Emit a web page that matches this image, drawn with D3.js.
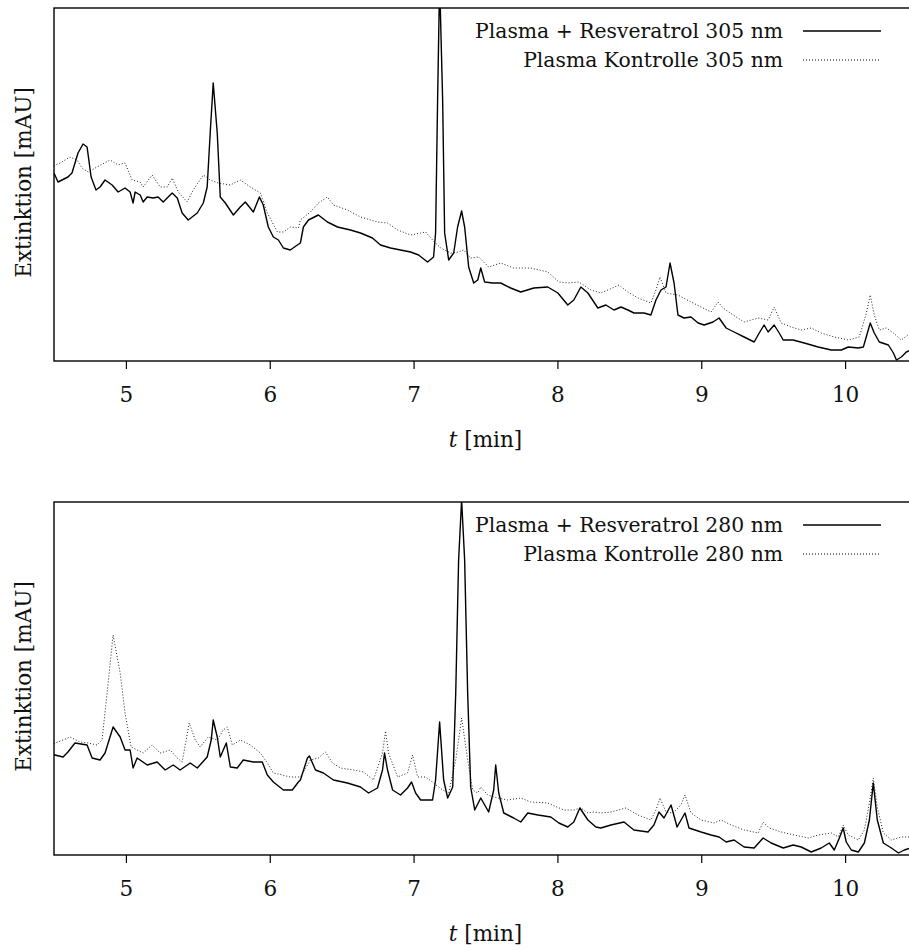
<!DOCTYPE html>
<html><head><meta charset="utf-8">
<script src="https://cdn.jsdelivr.net/npm/d3@7"></script>
<style>
html,body{margin:0;padding:0;background:#fff;}
svg{display:block;}
</style></head>
<body>
<script>
// time axis ticks (min)
const xTicks = [5, 6, 7, 8, 9, 10];
const xDomain = [4.5, 10.5];
const yDomain = [0, 353];

// Panel 1: 305 nm  [t (min), extinction (arb. mAU)]
const res305 = [[4.500,188],[4.528,179],[4.597,184],[4.625,188],[4.667,208],[4.702,217],[4.730,214],[4.758,184],[4.792,171],[4.820,174],[4.855,181],[4.904,176],[4.946,169],[4.994,173],[5.029,169],[5.050,158],[5.064,169],[5.099,166],[5.120,159],[5.148,164],[5.189,163],[5.224,164],[5.259,159],[5.322,168],[5.357,163],[5.391,148],[5.433,141],[5.496,148],[5.538,158],[5.565,174],[5.586,228],[5.607,278],[5.635,228],[5.656,164],[5.691,158],[5.747,146],[5.795,154],[5.830,159],[5.886,149],[5.928,164],[5.955,156],[5.990,134],[6.025,124],[6.060,121],[6.095,113],[6.143,111],[6.192,116],[6.213,118],[6.234,134],[6.269,141],[6.338,146],[6.401,139],[6.471,134],[6.561,131],[6.631,128],[6.714,123],[6.770,116],[6.840,113],[6.909,111],[6.979,109],[7.035,106],[7.097,99],[7.139,104],[7.153,128],[7.167,261],[7.181,380],[7.202,261],[7.216,128],[7.244,101],[7.279,108],[7.306,134],[7.334,150],[7.355,134],[7.383,94],[7.418,78],[7.446,81],[7.467,93],[7.494,79],[7.550,78],[7.606,78],[7.675,73],[7.745,69],[7.836,73],[7.933,74],[8.003,68],[8.072,56],[8.114,61],[8.163,74],[8.212,68],[8.281,53],[8.337,56],[8.393,51],[8.442,54],[8.490,51],[8.532,48],[8.602,48],[8.650,46],[8.685,61],[8.720,71],[8.755,74],[8.783,98],[8.811,78],[8.838,46],[8.880,43],[8.929,44],[8.978,38],[9.020,36],[9.082,39],[9.124,43],[9.173,33],[9.228,29],[9.298,24],[9.368,19],[9.403,28],[9.437,36],[9.465,29],[9.507,36],[9.542,28],[9.570,21],[9.639,21],[9.716,18],[9.813,14],[9.904,11],[9.974,11],[10.022,14],[10.092,13],[10.127,14],[10.155,28],[10.175,38],[10.203,28],[10.238,19],[10.301,16],[10.336,8],[10.357,1],[10.391,4],[10.426,9],[10.454,11],[10.5,12]];
const ctl305 = [[4.500,195],[4.507,196],[4.542,198],[4.611,204],[4.660,201],[4.695,193],[4.737,189],[4.799,194],[4.890,201],[4.946,196],[4.994,198],[5.043,181],[5.099,179],[5.120,174],[5.182,186],[5.238,174],[5.287,174],[5.322,183],[5.364,169],[5.426,159],[5.468,171],[5.538,186],[5.586,181],[5.642,178],[5.726,176],[5.795,181],[5.865,174],[5.935,168],[5.983,148],[6.053,129],[6.095,129],[6.143,134],[6.199,133],[6.213,141],[6.283,149],[6.338,158],[6.401,164],[6.443,156],[6.540,151],[6.631,144],[6.749,139],[6.819,138],[6.889,131],[6.979,126],[7.049,128],[7.084,129],[7.132,121],[7.188,113],[7.258,108],[7.313,109],[7.348,111],[7.397,103],[7.453,104],[7.522,94],[7.606,98],[7.696,93],[7.815,93],[7.933,89],[8.010,79],[8.072,78],[8.149,79],[8.233,71],[8.302,68],[8.351,71],[8.428,76],[8.490,69],[8.560,63],[8.650,58],[8.685,71],[8.713,84],[8.755,68],[8.838,66],[8.929,59],[8.999,54],[9.068,49],[9.117,59],[9.152,53],[9.222,46],[9.298,39],[9.396,43],[9.465,41],[9.507,54],[9.556,38],[9.625,34],[9.695,31],[9.765,33],[9.834,28],[9.925,24],[10.022,21],[10.099,24],[10.148,48],[10.175,66],[10.203,46],[10.238,31],[10.287,33],[10.336,28],[10.391,21],[10.454,28],[10.5,29]];

// Panel 2: 280 nm
const res280 = [[4.500,100],[4.507,100],[4.563,98],[4.597,103],[4.646,112],[4.730,110],[4.765,97],[4.820,95],[4.855,102],[4.911,128],[4.960,118],[4.994,105],[5.029,105],[5.050,87],[5.078,97],[5.148,90],[5.217,93],[5.273,85],[5.329,90],[5.377,85],[5.447,92],[5.496,87],[5.565,98],[5.593,115],[5.607,135],[5.635,118],[5.656,98],[5.698,112],[5.726,88],[5.774,87],[5.816,95],[5.886,93],[5.948,93],[5.983,80],[6.025,73],[6.095,65],[6.157,65],[6.199,73],[6.213,75],[6.262,97],[6.276,99],[6.318,85],[6.373,82],[6.443,75],[6.540,72],[6.631,68],[6.687,62],[6.749,67],[6.784,85],[6.798,102],[6.819,85],[6.854,65],[6.909,60],[6.958,67],[6.986,73],[7.014,62],[7.049,55],[7.132,55],[7.153,75],[7.181,133],[7.209,75],[7.237,57],[7.272,68],[7.293,162],[7.313,295],[7.334,355],[7.355,295],[7.376,162],[7.397,68],[7.425,45],[7.467,57],[7.522,43],[7.557,65],[7.571,90],[7.592,62],[7.627,42],[7.696,37],[7.745,33],[7.794,42],[7.864,40],[7.954,38],[8.010,32],[8.072,28],[8.114,33],[8.156,47],[8.212,35],[8.267,28],[8.302,27],[8.372,30],[8.463,33],[8.532,25],[8.630,23],[8.671,30],[8.706,43],[8.741,37],[8.790,50],[8.832,28],[8.887,42],[8.915,27],[8.999,23],[9.068,20],[9.124,18],[9.173,13],[9.228,15],[9.298,8],[9.368,7],[9.430,17],[9.486,12],[9.570,7],[9.639,10],[9.695,8],[9.765,3],[9.834,7],[9.890,12],[9.925,5],[9.960,17],[9.987,27],[10.008,13],[10.043,5],[10.092,3],[10.134,12],[10.169,35],[10.196,72],[10.224,35],[10.266,12],[10.322,7],[10.371,2],[10.412,5],[10.454,7],[10.5,8]];
const ctl280 = [[4.500,111],[4.507,112],[4.563,115],[4.611,118],[4.681,113],[4.737,112],[4.799,110],[4.834,115],[4.869,162],[4.911,220],[4.960,182],[4.994,142],[5.036,108],[5.078,105],[5.120,102],[5.182,110],[5.238,102],[5.308,105],[5.357,97],[5.391,93],[5.440,132],[5.482,115],[5.517,108],[5.572,118],[5.635,115],[5.677,125],[5.705,128],[5.740,110],[5.795,115],[5.865,110],[5.935,102],[5.983,92],[6.025,82],[6.088,80],[6.143,78],[6.213,78],[6.283,95],[6.338,97],[6.387,103],[6.436,92],[6.492,87],[6.582,85],[6.652,83],[6.721,75],[6.784,102],[6.805,124],[6.826,102],[6.889,78],[6.958,82],[6.993,100],[7.028,78],[7.084,78],[7.139,72],[7.202,65],[7.244,62],[7.293,95],[7.334,137],[7.376,95],[7.411,65],[7.446,62],[7.467,68],[7.515,60],[7.585,57],[7.655,55],[7.745,57],[7.815,53],[7.933,52],[8.045,45],[8.114,45],[8.163,47],[8.212,42],[8.253,43],[8.302,42],[8.372,43],[8.477,47],[8.560,40],[8.650,35],[8.685,45],[8.713,57],[8.755,43],[8.804,42],[8.859,50],[8.887,60],[8.929,42],[8.999,35],[9.089,32],[9.138,35],[9.207,30],[9.298,25],[9.396,22],[9.430,33],[9.472,27],[9.556,23],[9.646,20],[9.744,17],[9.813,20],[9.904,22],[9.953,18],[9.987,30],[10.022,20],[10.092,15],[10.134,25],[10.169,52],[10.196,77],[10.224,48],[10.266,22],[10.322,15],[10.391,18],[10.454,18],[10.5,19]];

const panels = [
  {top: 8, bottom: 361, res: res305, ctl: ctl305, nm: "305"},
  {top: 502, bottom: 855, res: res280, ctl: ctl280, nm: "280"}
];

const W = 909, H = 951;
const left = 54, right = 917;
const FONT = "DejaVu Serif";
const svg = d3.select("body").append("svg").attr("width", W).attr("height", H)
  .attr("font-family", FONT);

// size the text so the legend label spans about 308 px, whatever face renders
const probe = svg.append("text").attr("font-family", FONT).attr("font-size", 20)
  .text("Plasma + Resveratrol 305 nm");
let w20 = 0;
try { w20 = probe.node().getComputedTextLength(); } catch (e) { w20 = 0; }
probe.remove();
const legSize = w20 > 0 ? Math.max(16, Math.min(28, 20 * 308 / w20)) : 21;
const lblSize = legSize * 1.06;

const x = d3.scaleLinear().domain(xDomain).range([left, right]);

panels.forEach((p, i) => {
  const y = d3.scaleLinear().domain(yDomain).range([p.bottom, p.top]);
  const clipId = "clip" + i;
  svg.append("clipPath").attr("id", clipId)
    .append("rect").attr("x", left).attr("y", p.top).attr("width", right - left).attr("height", p.bottom - p.top);

  const line = d3.line().x(d => x(d[0])).y(d => y(d[1]));
  const g = svg.append("g").attr("clip-path", `url(#${clipId})`);
  g.append("path").datum(p.ctl).attr("d", line)
    .attr("fill", "none").attr("stroke", "#222").attr("stroke-width", 1)
    .attr("stroke-dasharray", "1,2");
  g.append("path").datum(p.res).attr("d", line)
    .attr("fill", "none").attr("stroke", "#000").attr("stroke-width", 1.4)
    .attr("stroke-linejoin", "round");

  // frame
  svg.append("rect").attr("x", left).attr("y", p.top).attr("width", right - left).attr("height", p.bottom - p.top)
    .attr("fill", "none").attr("stroke", "#000").attr("stroke-width", 1.4);

  // x axis
  const ax = svg.append("g").attr("transform", `translate(0,${p.bottom})`)
    .call(d3.axisBottom(x).tickValues(xTicks).tickSize(8).tickPadding(18).tickFormat(d3.format("d")));
  ax.attr("font-family", FONT).attr("font-size", lblSize);
  ax.select(".domain").remove();
  ax.selectAll(".tick line").attr("stroke", "#000").attr("stroke-width", 1.2);
  ax.selectAll(".tick text").attr("font-family", FONT).attr("font-size", lblSize).attr("fill", "#111");

  // x title
  const xt = svg.append("text").attr("x", (left + right) / 2).attr("y", p.bottom + 86)
    .attr("text-anchor", "middle").attr("font-size", lblSize).attr("font-family", FONT).attr("fill", "#111");
  xt.append("tspan").attr("font-style", "italic").text("t");
  xt.append("tspan").text(" [min]");

  // y title
  svg.append("text")
    .attr("transform", `translate(31,${(p.top + p.bottom) / 2 - 2}) rotate(-90)`)
    .attr("text-anchor", "middle").attr("font-size", lblSize).attr("font-family", FONT).attr("fill", "#111")
    .text("Extinktion [mAU]");

  // legend
  const leg = [
    {label: `Plasma + Resveratrol ${p.nm} nm`, dash: null, w: 1.4},
    {label: `Plasma Kontrolle ${p.nm} nm`, dash: "1,2", w: 1}
  ];
  leg.forEach((l, j) => {
    const cy = p.top + 23 + j * 29;
    svg.append("text").attr("x", 783).attr("y", cy + 7).attr("text-anchor", "end")
      .attr("font-size", legSize).attr("font-family", FONT).attr("fill", "#111").text(l.label);
    svg.append("line").attr("x1", 803).attr("x2", 881).attr("y1", cy).attr("y2", cy)
      .attr("stroke", "#000").attr("stroke-width", l.w)
      .attr("stroke-dasharray", l.dash);
  });
});
</script>
</body></html>
